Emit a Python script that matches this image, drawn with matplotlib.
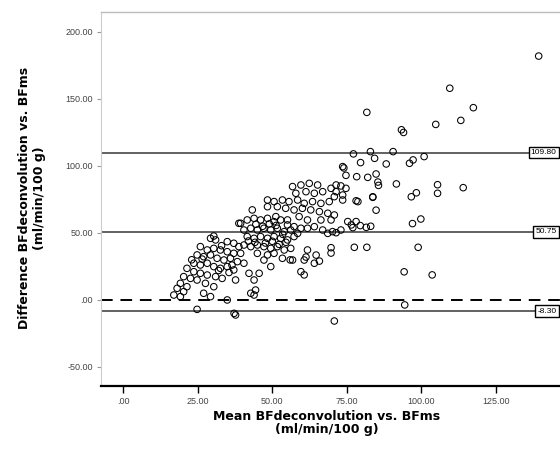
import numpy as np
import matplotlib.pyplot as plt

plt.rcParams['font.family'] = ['Liberation Sans', 'DejaVu Sans']

# Bland-Altman: mean of the two methods vs. their difference (ml/min/100 g)
mean_bf = [
    # sparse points, upper right
    139.3, 109.5, 117.4, 113.2, 104.8, 81.7, 93.3, 94.0, 77.2, 82.9, 90.5, 100.9,
    97.2, 96.0, 79.6, 84.3, 88.2, 74.7, 78.3, 82.0, 84.8, 85.4, 85.6, 91.6, 105.4,
    105.4, 114.0, 98.3, 96.6, 78.1, 83.7, 84.8, 99.8, 97.0, 78.1, 75.3, 81.5, 83.0,
    77.5, 81.7, 69.7, 69.7, 98.9, 94.2, 103.6, 60.7, 61.8, 64.7, 65.8, 61.3, 94.4,
    70.8, 37.7, 37.2, 24.8, 43.9, 34.9, 56.0, 74.0, 76.5, 79.5, 77.0, 73.6, 71.4,
    73.6, 78.7, 83.7,
    # upper part of the main cloud
    56.8, 59.6, 62.4, 65.2, 69.7, 73.0, 74.7, 57.9, 61.3, 64.1, 66.9, 70.8, 73.6,
    71.4, 48.4, 50.6, 53.4, 55.6, 58.5, 60.7, 63.5, 66.3, 69.1, 48.4, 51.7, 54.5,
    57.3, 60.1, 62.9, 65.8, 68.6, 70.8, 69.7, 66.3, 43.3, 51.2, 55.1, 59.0, 61.8,
    64.1, 66.9, 70.2, 73.0, 61.8, 68.6, 71.4,
    # dense core around the mean line
    39.4, 41.6, 43.9, 46.1, 48.4, 50.6, 52.8, 55.1, 57.3, 59.6, 40.5, 42.8, 45.0,
    47.2, 49.5, 51.7, 54.0, 56.2, 58.5, 41.6, 43.9, 46.1, 48.4, 50.6, 52.8, 55.1,
    57.3, 40.5, 42.8, 45.0, 47.2, 49.5, 51.7, 54.0, 56.2, 48.4, 50.6, 53.4, 56.8,
    45.0, 47.2, 49.5, 45.6, 43.9, 60.7, 64.1, 59.6, 44.5, 46.8, 49.0, 51.3, 53.5,
    42.0, 44.2, 47.7, 50.0, 52.3, 54.6,
    # lower left arm
    29.3, 31.0, 34.9, 37.1, 38.8, 25.9, 28.2, 30.4, 32.6, 34.9, 37.1, 39.4, 24.8,
    27.0, 29.3, 31.5, 33.8, 36.0, 38.3, 40.5, 23.7, 25.9, 28.2, 30.4, 32.6, 34.9,
    37.1, 21.4, 23.7, 25.9, 28.2, 31.0, 33.2, 37.7, 20.3, 22.6, 24.8, 27.6, 30.4,
    19.2, 21.4, 18.1, 20.3, 17.0, 19.2, 27.0, 29.3, 42.8, 44.4, 42.2, 38.8, 30.4,
    26.5, 32.0, 35.5, 23.0, 36.5, 33.0,
]
diff_bf = [
    182.0, 158.0, 143.5, 134.0, 131.0, 140.0, 127.0, 125.0, 109.0, 110.7, 110.7, 107.0,
    104.5, 102.0, 102.5, 105.7, 101.5, 93.0, 92.0, 91.5, 94.0, 88.0, 85.5, 86.6, 86.0,
    79.6, 83.8, 80.0, 77.0, 74.0, 77.0, 67.0, 60.4, 57.0, 58.5, 58.5, 54.2, 55.0,
    39.3, 39.3, 39.0, 35.0, 39.3, 21.0, 18.7, 18.7, 37.3, 33.5, 29.0, 32.0, -3.7,
    -15.7, -11.2, -10.0, -7.0, 3.7, 0.0, 29.9, 98.5, 56.0, 55.5, 54.0, 78.3, 85.8,
    99.5, 73.4, 76.6,
    84.6, 85.8, 87.0, 85.8, 83.3, 85.1, 83.3, 79.6, 80.8, 79.6, 80.8, 77.1, 74.6,
    80.8, 74.6, 73.4, 74.6, 73.4, 74.6, 72.1, 73.4, 72.1, 73.4, 69.6, 69.6, 68.4,
    67.2, 68.4, 67.2, 65.9, 64.7, 63.4, 59.7, 59.7, 67.2, 62.2, 59.7, 62.2, 59.7,
    54.7, 52.2, 51.0, 52.2, 53.5, 49.7, 50.2,
    57.2, 59.7, 60.9, 59.7, 60.9, 58.4, 59.7, 56.0, 54.7, 53.5, 52.2, 53.5, 52.2,
    53.5, 52.2, 53.5, 51.0, 52.2, 49.7, 47.3, 46.0, 47.3, 46.0, 47.3, 46.0, 44.8,
    47.3, 41.0, 39.8, 41.0, 39.8, 38.5, 39.8, 37.3, 38.5, 33.6, 34.8, 31.1, 29.8,
    34.8, 29.8, 24.9, 19.9, 14.9, 29.8, 27.4, 21.1, 56.5, 55.0, 56.8, 55.6, 49.0,
    44.0, 43.0, 42.5, 43.8, 41.5, 43.0,
    46.0, 44.8, 43.5, 42.3, 39.8, 39.8, 37.3, 38.5, 37.3, 36.0, 34.8, 34.8, 33.6,
    32.3, 33.6, 31.1, 29.8, 31.1, 28.6, 27.4, 27.4, 26.1, 27.4, 24.9, 23.6, 24.9,
    22.4, 23.6, 21.1, 19.9, 18.6, 17.4, 16.1, 14.9, 17.4, 16.1, 14.9, 12.4, 9.9,
    12.4, 9.9, 8.7, 6.2, 3.7, 2.5, 5.0, 2.5, 5.0, 7.4, 19.9, 57.2, 47.7,
    30.5, 22.0, 20.5, 30.0, 26.0, 40.5,
]

mean_diff = 50.75
upper_loa = 109.80
lower_loa = -8.30
ref_lines = [upper_loa, mean_diff, lower_loa]
ref_labels = ['109.80', '50.75', '-8.30']

x_ticks = [0, 25, 50, 75, 100, 125]
x_ticklabels = ['.00', '25.00', '50.00', '75.00', '100.00', '125.00']
y_ticks = [-50, 0, 50, 100, 150, 200]
y_ticklabels = ['-50.00', '.00', '50.00', '100.00', '150.00', '200.00']

fig = plt.figure(figsize=(5.6, 4.54), dpi=100)
ax = fig.add_axes([0.1804, 0.1498, 0.895, 0.8238])

ax.set_xlim(-7.4, 160.6)
ax.set_ylim(-64.2, 214.9)

# limits of agreement and mean difference, with value boxes on the right
for yv, lab in zip(ref_lines, ref_labels):
    ax.axhline(yv, color='#555555', lw=1.3, zorder=1)
    ax.text(145.3, yv, lab, ha='right', va='center', fontsize=6,
            color='black', zorder=4,
            bbox=dict(boxstyle='square,pad=0.25', fc='white', ec='black', lw=1.0))

ax.axhline(0, color='black', lw=1.4, ls=(0, (6, 4)), zorder=2)

ax.scatter(mean_bf, diff_bf, s=22, facecolors='none', edgecolors='black',
           linewidths=0.75, zorder=3)

ax.set_xticks(x_ticks)
ax.set_xticklabels(x_ticklabels)
ax.set_yticks(y_ticks)
ax.set_yticklabels(y_ticklabels)
ax.tick_params(axis='x', direction='out', length=5, width=1.0, color='black',
               labelsize=6.5, labelcolor='#444444', pad=3)
ax.tick_params(axis='y', direction='out', length=3, width=0.8, color='#999999',
               labelsize=6.5, labelcolor='#444444', pad=3)

ax.spines['right'].set_visible(False)
ax.spines['top'].set_color('#bbbbbb')
ax.spines['top'].set_linewidth(1.0)
ax.spines['left'].set_color('#cccccc')
ax.spines['left'].set_linewidth(0.8)
ax.spines['bottom'].set_color('black')
ax.spines['bottom'].set_linewidth(1.6)

# axis titles placed in figure coordinates
fig.text(327 / 560, 1 - 423 / 454, 'Mean BFdeconvolution vs. BFms\n(ml/min/100 g)',
         ha='center', va='center', fontsize=9, fontweight='bold',
         family='DejaVu Sans', linespacing=1.0)
fig.text(32 / 560, 1 - 198 / 454, 'Difference BFdeconvolution vs. BFms\n(ml/min/100 g)',
         ha='center', va='center', rotation=90, fontsize=9, fontweight='bold',
         family='DejaVu Sans', linespacing=1.25)

fig.savefig('out.png', dpi=100)
